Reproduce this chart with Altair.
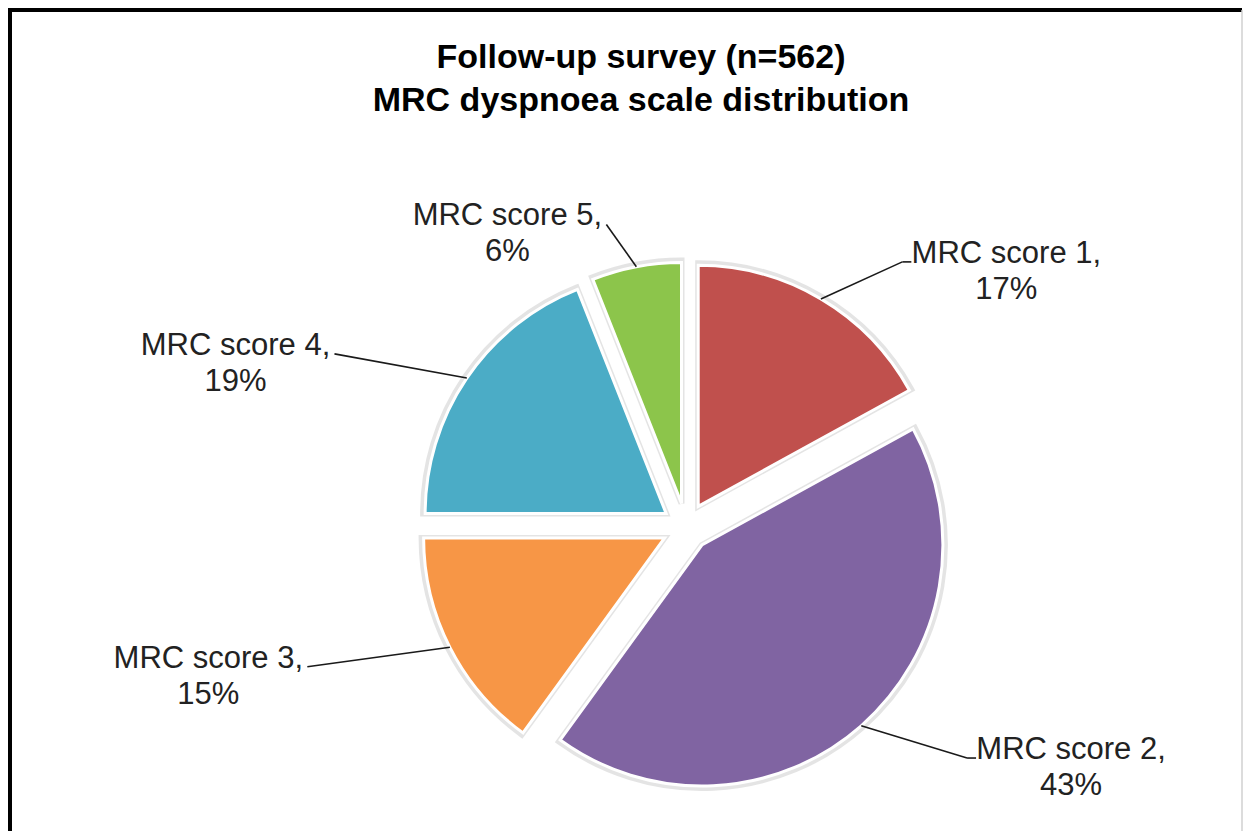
import math
import altair as alt
import pandas as pd

# ---- data -------------------------------------------------------------
categories = ["MRC score 1", "MRC score 2", "MRC score 3", "MRC score 4", "MRC score 5"]
percent = [17, 43, 15, 19, 6]
colors = ["#C0504D", "#8064A2", "#F79646", "#4BACC6", "#8CC54B"]
title_lines = ["Follow-up survey (n=562)", "MRC dyspnoea scale distribution"]

# ---- layout -----------------------------------------------------------
W, H = 1244, 831
CX, CY = 686, 527          # pie centre
R = 241                    # slice radius
EXPLODE = 24               # explosion distance
LRX, LRY = 425, 308        # leader-line end ellipse
FONT = "Liberation Sans"

total = sum(percent)
starts, ends, acc = [], [], 0
for v in percent:
    starts.append(acc)
    acc += v
    ends.append(acc)

df = pd.DataFrame({
    "category": categories,
    "pct": percent,
    "start": starts,
    "end": ends,
    "line1": [f"{c}," for c in categories],
    "line2": [f"{p}%" for p in percent],
})

xs = alt.Scale(domain=[0, W], nice=False, zero=False)
ys = alt.Scale(domain=[0, H], nice=False, zero=False, reverse=True)
color = alt.Color("category:N", scale=alt.Scale(domain=categories, range=colors), legend=None)

base = alt.Chart(df).transform_calculate(
    mid=f"(datum.start + datum.end) / 2 / {total} * 2 * PI",
).transform_calculate(
    sx=f"{CX} + {EXPLODE} * sin(datum.mid)",
    sy=f"{CY} - {EXPLODE} * cos(datum.mid)",
    ex=f"{CX} + {EXPLODE + R} * sin(datum.mid)",
    ey=f"{CY} - {EXPLODE + R} * cos(datum.mid)",
    lx=f"{CX} + {LRX} * sin(datum.mid)",
    ly=f"{CY} - {LRY} * cos(datum.mid)",
    side="sin(datum.mid) > 0 ? 1 : -1",
).transform_calculate(
    tickx="datum.lx + datum.side * 9",
    tx="datum.lx + (datum.side > 0 ? 104 : -99)",
    ty1="datum.ly - 8",
    ty2="datum.ly + 28",
)

theta = alt.Theta("start:Q", scale=alt.Scale(domain=[0, total], range=[0, 2 * math.pi]))
theta2 = alt.Theta2("end:Q")

halo = base.mark_arc(radius=R + 2, fill="#cfcfcf", stroke="#c4c4c4", strokeWidth=6,
                     opacity=0.45).encode(
    x=alt.X("sx:Q", scale=xs, axis=None),
    y=alt.Y("sy:Q", scale=ys, axis=None),
    theta=theta, theta2=theta2,
)

slices = base.mark_arc(radius=R, stroke="white", strokeWidth=3).encode(
    x=alt.X("sx:Q", scale=xs, axis=None),
    y=alt.Y("sy:Q", scale=ys, axis=None),
    theta=theta, theta2=theta2,
    color=color,
)

leaders = base.mark_rule(color="#1a1a1a", strokeWidth=1.6).encode(
    x=alt.X("ex:Q", scale=xs, axis=None),
    y=alt.Y("ey:Q", scale=ys, axis=None),
    x2="lx:Q", y2="ly:Q",
)

ticks = base.transform_filter("datum.side > 0").mark_rule(color="#1a1a1a", strokeWidth=1.6).encode(
    x=alt.X("lx:Q", scale=xs, axis=None),
    y=alt.Y("ly:Q", scale=ys, axis=None),
    x2="tickx:Q",
)

lab1 = base.mark_text(font=FONT, fontSize=31, color="#222222", align="center",
                      baseline="middle").encode(
    x=alt.X("tx:Q", scale=xs, axis=None),
    y=alt.Y("ty1:Q", scale=ys, axis=None),
    text="line1:N",
)
lab2 = base.mark_text(font=FONT, fontSize=31, color="#222222", align="center",
                      baseline="middle").encode(
    x=alt.X("tx:Q", scale=xs, axis=None),
    y=alt.Y("ty2:Q", scale=ys, axis=None),
    text="line2:N",
)

one = pd.DataFrame({"k": [0]})
title = alt.Chart(one).mark_text(
    text=title_lines, font=FONT, fontSize=34, fontWeight="bold", color="black",
    align="center", baseline="alphabetic", lineHeight=43,
).encode(x=alt.value(641), y=alt.value(68))

frame_top = alt.Chart(one).mark_rule(color="black", strokeWidth=4).encode(
    x=alt.value(8), x2=alt.value(1242), y=alt.value(10))
frame_left = alt.Chart(one).mark_rule(color="black", strokeWidth=4).encode(
    x=alt.value(10), y=alt.value(8), y2=alt.value(H))
frame_right = alt.Chart(one).mark_rule(color="#d0d0d0", strokeWidth=1.5).encode(
    x=alt.value(1242), y=alt.value(10), y2=alt.value(H))

chart = alt.layer(
    halo, slices, leaders, ticks, lab1, lab2, title, frame_top, frame_left, frame_right
).resolve_scale(x="shared", y="shared").properties(
    width=W, height=H,
    autosize=alt.AutoSizeParams(type="none"),
    padding=0,
    background="white",
).configure_view(stroke=None)

chart.save("out.html", embed_options={"renderer": "svg", "actions": False})
